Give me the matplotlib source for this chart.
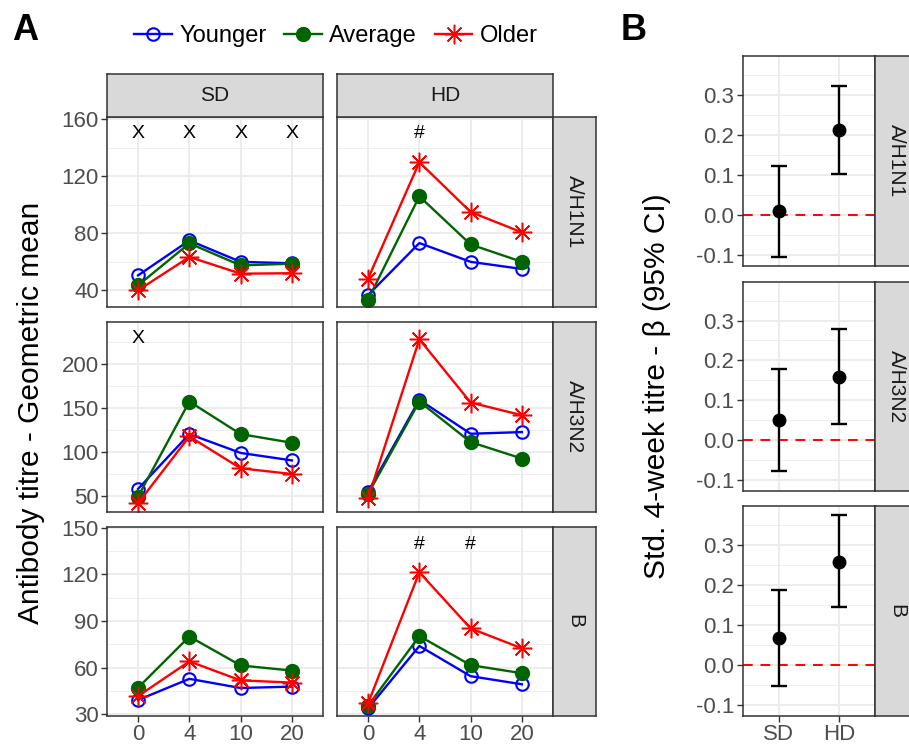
import matplotlib
matplotlib.use("Agg")
import matplotlib.pyplot as plt
from matplotlib.lines import Line2D
from matplotlib.ticker import MultipleLocator, FormatStrFormatter

plt.rcParams['font.family'] = ['Liberation Sans', 'DejaVu Sans']
plt.rcParams['axes.unicode_minus'] = False

# ---- data ----
weeks = ["0", "4", "10", "20"]
groups = ["Younger", "Average", "Older"]
strains = ["A/H1N1", "A/H3N2", "B"]
doses = ["SD", "HD"]

# geometric mean titres, rows = Younger, Average, Older
h1n1_sd = [[50.5, 75.0, 60.0, 59.0], [43.5, 73.0, 57.5, 58.7], [40.0, 63.4, 51.7, 52.0]]
h1n1_hd = [[36.7, 73.2, 60.0, 55.0], [33.5, 106.0, 72.2, 60.0], [48.2, 130.0, 95.0, 80.7]]
h3n2_sd = [[58.0, 120.5, 99.0, 90.5], [49.2, 157.6, 120.5, 110.6], [41.7, 117.8, 81.5, 75.0]]
h3n2_hd = [[54.9, 159.6, 120.9, 122.8], [52.3, 157.6, 111.4, 92.6], [47.4, 228.7, 156.5, 142.0]]
b_sd = [[39.2, 52.8, 46.9, 47.8], [47.1, 80.0, 61.4, 58.1], [41.7, 64.0, 51.8, 50.4]]
b_hd = [[33.8, 73.9, 54.5, 49.3], [35.5, 80.3, 61.6, 56.4], [37.1, 121.3, 85.2, 72.4]]

# significance marks: (strain, dose, week, symbol, y)
marks = [(0, 0, 0, "X", 150), (0, 0, 1, "X", 150), (0, 0, 2, "X", 150), (0, 0, 3, "X", 150),
         (0, 1, 1, "#", 150),
         (1, 0, 0, "X", 229),
         (2, 1, 1, "#", 139), (2, 1, 2, "#", 139)]

# panel B: standardised 4-week titre beta with 95% CI
beta_h1n1 = [0.010, 0.2125]
lo_h1n1 = [-0.104, 0.103]
hi_h1n1 = [0.123, 0.3225]
beta_h3n2 = [0.050, 0.158]
lo_h3n2 = [-0.077, 0.039]
hi_h3n2 = [0.1775, 0.278]
beta_b = [0.067, 0.258]
lo_b = [-0.0525, 0.144]
hi_b = [0.1875, 0.375]

titres = [[h1n1_sd, h1n1_hd], [h3n2_sd, h3n2_hd], [b_sd, b_hd]]
betas = [(beta_h1n1, lo_h1n1, hi_h1n1), (beta_h3n2, lo_h3n2, hi_h3n2), (beta_b, lo_b, hi_b)]

# ---- styling ----
W, H = 909, 747
fig = plt.figure(figsize=(W / 100, H / 100), dpi=100)

dark = '#333333'
grid = '#EBEBEB'
strip_bg = '#D9D9D9'
tick_col = '#4D4D4D'
styles = {
    "Younger": dict(color='#0000FF', marker='o', mfc='none', mec='#0000FF', ms=9, mew=1.5),
    "Average": dict(color='#006400', marker='o', mfc='#006400', mec='#006400', ms=10, mew=1),
    "Older": dict(color='#FF0000', marker=(8, 2, 0), mec='#FF0000', ms=14, mew=1.1),
}


def box(l, t, r, b):
    return fig.add_axes([l / W, 1 - b / H, (r - l) / W, (b - t) / H])


def frame(ax):
    for s in ax.spines.values():
        s.set_color(dark)
        s.set_linewidth(1.1)


def strip(l, t, r, b, label, rot=0):
    ax = box(l, t, r, b)
    ax.set_facecolor(strip_bg)
    ax.set_xticks([])
    ax.set_yticks([])
    frame(ax)
    ax.text(0.5, 0.5, label, transform=ax.transAxes, ha='center', va='center',
            fontsize=15, color='#1A1A1A', rotation=rot)
    return ax


def gridstyle(ax):
    ax.set_axisbelow(True)
    ax.grid(which='major', color=grid, lw=1.3)
    ax.grid(which='minor', axis='y', color=grid, lw=0.6)
    ax.tick_params(which='major', length=4, width=1, color=dark, labelsize=16,
                   labelcolor=tick_col, pad=2)
    ax.tick_params(which='minor', length=0)
    frame(ax)


# ---- panel A ----
col_x = [(107.3, 322.7), (337.3, 552.7)]
row_y = [(117.3, 306.7), (322.3, 511.7), (526.7, 715.7)]
ylims = [(28.5, 161.5), (32, 248), (29.1, 150.6)]
ysteps = [40, 50, 30]
x = list(range(len(weeks)))

for i in range(3):
    for j in range(2):
        ax = box(col_x[j][0], row_y[i][0], col_x[j][1], row_y[i][1])
        for g, vals in zip(groups, titres[i][j]):
            ax.plot(x, vals, lw=1.7, **styles[g])
        for (si, dj, wk, sym, yv) in marks:
            if si == i and dj == j:
                ax.text(wk, yv, sym, ha='center', va='center', fontsize=14, color='black')
        ax.set_xlim(-0.6, 3.6)
        ax.set_ylim(*ylims[i])
        ax.set_xticks(x)
        ax.yaxis.set_major_locator(MultipleLocator(ysteps[i]))
        ax.yaxis.set_minor_locator(MultipleLocator(ysteps[i] / 2))
        gridstyle(ax)
        if i == 2:
            ax.set_xticklabels(weeks)
        else:
            ax.tick_params(axis='x', length=0, labelbottom=False)
        if j == 1:
            ax.tick_params(axis='y', length=0, labelleft=False)
    strip(552.7, row_y[i][0], 596, row_y[i][1], strains[i], rot=-90)

for j in range(2):
    strip(col_x[j][0], 74, col_x[j][1], 117.3, doses[j])

fig.text(31 / W, 1 - 413 / H, "Antibody titre - Geometric mean", rotation=90,
         ha='center', va='center', fontsize=21.5, color='black')

handles = [Line2D([0], [0], lw=1.7, **styles[g]) for g in groups]
fig.legend(handles, groups, loc='center', bbox_to_anchor=(336 / W, 1 - 36 / H), ncol=3,
           frameon=False, fontsize=17, handlelength=1.6, handletextpad=0.3,
           columnspacing=0.75, borderaxespad=0)

fig.text(12 / W, 1 - 30 / H, "A", fontsize=26, fontweight='bold', va='center', ha='left')
fig.text(621 / W, 1 - 30 / H, "B", fontsize=26, fontweight='bold', va='center', ha='left')

# ---- panel B ----
b_rows = [(56, 266), (281.7, 490.7), (506, 716)]
xb = [0, 1]
for i in range(3):
    ax = box(742.7, b_rows[i][0], 875, b_rows[i][1])
    est, lo, hi = betas[i]
    ax.axhline(0, color='#FF0000', lw=1.4, ls=(0, (5, 4)), zorder=1)
    ax.errorbar(xb, est, yerr=[[e - l for e, l in zip(est, lo)], [h - e for e, h in zip(est, hi)]],
                fmt='o', color='black', ms=9, capsize=6, elinewidth=1.7, capthick=1.7, zorder=3)
    ax.set_xlim(-0.6, 1.6)
    ax.set_ylim(-0.1275, 0.3975)
    ax.set_xticks(xb)
    ax.yaxis.set_major_locator(MultipleLocator(0.1))
    ax.yaxis.set_minor_locator(MultipleLocator(0.05))
    ax.yaxis.set_major_formatter(FormatStrFormatter('%.1f'))
    gridstyle(ax)
    if i == 2:
        ax.set_xticklabels(doses)
    else:
        ax.tick_params(axis='x', length=0, labelbottom=False)
    strip(875, b_rows[i][0], 918, b_rows[i][1], strains[i], rot=-90)

fig.text(657 / W, 1 - 386 / H, "Std. 4-week titre - β (95% CI)", rotation=90,
         ha='center', va='center', fontsize=21.5, color='black')

fig.savefig("out.png", dpi=100)
